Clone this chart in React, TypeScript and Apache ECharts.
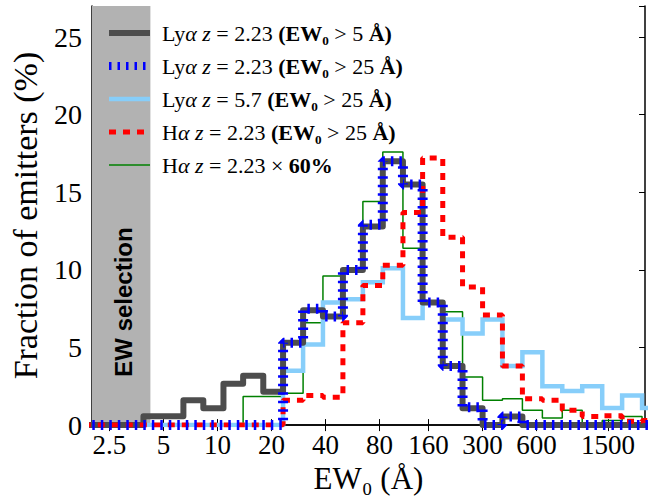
import React, { useEffect, useRef } from "react";
import * as echarts from "echarts";

// Bin edges of the EW0 histograms (Å)
const binEdges = [1.8, 2.32, 3.0, 3.87, 5.0, 6.46, 8.34, 10.8, 13.9, 18.0, 23.2, 30.0, 38.7, 50.0, 64.6, 83.4, 108, 139, 180, 232, 300, 387, 500, 646, 834, 1077, 1392, 1797, 2321, 2997];

// Fraction of emitters (%) per bin
const lyaAll = [0, 0, 0, 0.57, 0.57, 1.6, 1.08, 2.66, 3.18, 2.15, 5.3, 7.4, 7.0, 10.0, 12.8, 17.0, 15.5, 7.9, 3.8, 1.08, 0, 0.55, 0, 0, 0, 0, 0, 0, 0];
const lya25 = [0, 0, 0, 0, 0, 0, 0, 0, 0, 0, 5.3, 7.5, 7.0, 10.0, 12.9, 17.0, 15.5, 7.9, 3.8, 1.15, 0, 0.55, 0, 0, 0, 0, 0, 0, 0];
const lya57 = [0, 0, 0, 0, 0, 0, 0, 0, 0, 0, 3.5, 5.2, 7.9, 8.1, 9.2, 10.1, 6.9, 7.9, 6.8, 5.9, 6.8, 3.8, 4.7, 2.5, 2.2, 2.5, 1.1, 1.9, 1.1];
const ha25 = [0, 0, 0, 0, 0, 0, 0, 0, 0, 0, 1.6, 1.9, 1.8, 6.6, 9.0, 10.3, 13.7, 17.2, 12.1, 8.9, 7.1, 3.8, 1.7, 1.6, 0.95, 0.55, 0.6, 0.25, 0.3];
const ha60 = [0, 0, 0, 0, 0, 0, 0, 0, 1.85, 1.85, 2.05, 6.6, 9.6, 10.1, 14.4, 17.6, 11.4, 7.9, 7.3, 3.1, 1.6, 1.7, 0.95, 0.45, 0.95, 0, 0.3, 0.55, 0];

// Axis ticks
const xTickValues = [2.5, 5, 10, 20, 40, 80, 150, 300, 600, 1500];
const xTickLabels = ["2.5", "5", "10", "20", "40", "80", "160", "300", "600", "1500"];
const xMin = 2.0;
const xMax = 2410;
const yMax = 27;
const selectionLimit = 4.23;

const seriesNames = ["lyaAll", "lya25", "lya57", "ha25", "ha60"];
const legendTexts: Record<string, string> = {
  lyaAll: "{r|Ly}{i|α z}{r| = 2.23 }{b|(EW₀}{r| > 5 }{b|Å)}",
  lya25: "{r|Ly}{i|α z}{r| = 2.23 }{b|(EW₀}{r| > 25 }{b|Å)}",
  lya57: "{r|Ly}{i|α z}{r| = 5.7 }{b|(EW₀}{r| > 25 }{b|Å)}",
  ha25: "{r|H}{i|α z}{r| = 2.23 }{b|(EW₀}{r| > 25 }{b|Å)}",
  ha60: "{r|H}{i|α z}{r| = 2.23 × }{b|60%}",
};

const styles: Record<string, any> = {
  lyaAll: { color: "#4d4d4d", width: 6, join: "round", cap: "round" },
  lya25: { color: "#0000ff", width: 10, type: [2.5, 6], cap: "butt" },
  lya57: { color: "#87cefa", width: 4.5, join: "miter" },
  ha25: { color: "#ff0000", width: 5, type: [7, 7], cap: "butt" },
  ha60: { color: "#008000", width: 1.5 },
};

const toSteps = (vals: number[]) => {
  const pts: number[][] = vals.map((v, i) => [binEdges[i], v]);
  pts.push([binEdges[vals.length], vals[vals.length - 1]]);
  return pts;
};

const SERIF = '"Liberation Serif", "DejaVu Serif", serif';

export default function App() {
  const ref = useRef<HTMLDivElement>(null);
  useEffect(() => {
    document.body.style.margin = "0";
    const chart = echarts.init(ref.current!, null, { renderer: "svg" });
    const labelFor = (v: number) => {
      const i = xTickValues.findIndex((t) => Math.abs(t - v) / t < 1e-6);
      return i >= 0 ? xTickLabels[i] : "";
    };
    const xCommon = {
      type: "log",
      logBase: 10,
      min: xMin,
      max: xMax,
      splitLine: { show: false },
      minorTick: { show: false },
      axisLine: { show: true, lineStyle: { color: "#000", width: 1.5 } },
    };
    const yCommon = {
      type: "value",
      min: 0,
      max: yMax,
      interval: 5,
      splitLine: { show: false },
      axisLine: { show: true, lineStyle: { color: "#000", width: 1.5 } },
      axisTick: { show: true, inside: true, length: 6, lineStyle: { color: "#000", width: 1 } },
    };
    const line = (name: string, vals: number[], z: number) => ({
      name,
      type: "line",
      step: "end",
      data: toSteps(vals),
      showSymbol: false,
      symbol: "none",
      z,
      lineStyle: styles[name],
      itemStyle: { color: styles[name].color },
      emphasis: { disabled: true },
    });
    chart.setOption({
      animation: false,
      grid: { left: 92, right: 12, top: 6, bottom: 67 },
      xAxis: [
        {
          ...xCommon,
          position: "bottom",
          name: "EW₀ (Å)",
          nameLocation: "middle",
          nameGap: 31,
          nameTextStyle: { fontFamily: SERIF, fontSize: 31, color: "#000" },
          axisTick: { show: true, inside: true, length: 6, customValues: xTickValues, lineStyle: { color: "#000", width: 1 } },
          axisLabel: {
            show: true,
            customValues: xTickValues,
            formatter: (v: number) => labelFor(v),
            fontFamily: SERIF,
            fontSize: 27,
            color: "#000",
            margin: 6,
          },
        },
        {
          ...xCommon,
          position: "top",
          axisTick: { show: true, inside: true, length: 6, customValues: xTickValues, lineStyle: { color: "#000", width: 1 } },
          axisLabel: { show: false },
        },
      ],
      yAxis: [
        {
          ...yCommon,
          position: "left",
          name: "Fraction of emitters (%)",
          nameLocation: "middle",
          nameGap: 50,
          nameTextStyle: { fontFamily: SERIF, fontSize: 34, color: "#000" },
          axisLabel: { show: true, showMaxLabel: false, fontFamily: SERIF, fontSize: 28, color: "#000", margin: 10 },
        },
        { ...yCommon, position: "right", axisLabel: { show: false } },
      ],
      legend: {
        data: seriesNames.map((n) => ({
          name: n,
          itemStyle: { opacity: 0 },
          lineStyle: {
            color: styles[n].color,
            width: styles[n].width === 10 ? 8 : styles[n].width,
            type: styles[n].type || "solid",
            cap: "butt",
          },
        })),
        orient: "vertical",
        left: 100,
        top: 17,
        itemWidth: 41,
        itemHeight: 14,
        itemGap: 11,
        formatter: (name: string) => legendTexts[name],
        textStyle: {
          fontFamily: SERIF,
          fontSize: 22,
          color: "#000",
          padding: [0, 0, 0, 7],
          rich: {
            r: { fontFamily: SERIF, fontSize: 22, color: "#000", lineHeight: 22 },
            i: { fontFamily: SERIF, fontSize: 22, fontStyle: "italic", color: "#000", lineHeight: 22 },
            b: { fontFamily: SERIF, fontSize: 22, fontWeight: "bold", color: "#000", lineHeight: 22 },
          },
        },
        selectedMode: false,
      },
      graphic: [
        {
          type: "text",
          x: 123,
          y: 302,
          rotation: Math.PI / 2,
          z: 10,
          style: {
            text: "EW selection",
            font: 'bold 24px "Liberation Sans", Arial, sans-serif',
            fill: "#000",
            textAlign: "center",
            textVerticalAlign: "middle",
          },
        },
      ],
      series: [
        {
          name: "selection",
          type: "line",
          data: [],
          z: 0,
          markArea: {
            silent: true,
            itemStyle: { color: "#b2b2b2" },
            data: [[{ xAxis: xMin }, { xAxis: selectionLimit }]],
          },
        },
        line("ha60", ha60, 2),
        line("lya57", lya57, 3),
        line("lyaAll", lyaAll, 4),
        line("ha25", ha25, 5),
        line("lya25", lya25, 6),
      ],
    });
    return () => chart.dispose();
  }, []);
  return <div ref={ref} style={{ width: 657, height: 499 }} />;
}
